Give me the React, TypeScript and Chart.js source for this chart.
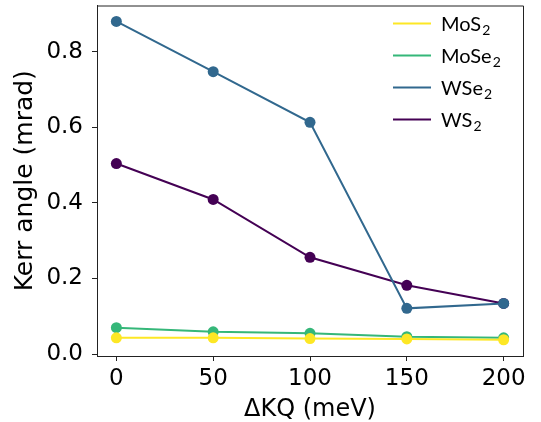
import React, { useEffect, useRef } from "react";
import { Chart, registerables } from "chart.js";

Chart.register(...registerables);

const xValues = [0, 50, 100, 150, 200];
const seriesLabels = ["MoS2", "MoSe2", "WSe2", "WS2"];
const mos2 = [0.043, 0.043, 0.041, 0.040, 0.038];
const mose2 = [0.070, 0.059, 0.055, 0.046, 0.043];
const wse2 = [0.880, 0.747, 0.613, 0.121, 0.134];
const ws2 = [0.504, 0.409, 0.256, 0.182, 0.134];
const seriesColors = ["#fde725", "#35b779", "#31688e", "#440154"];
const xTicks = [0, 50, 100, 150, 200];
const yTicks = [0.0, 0.2, 0.4, 0.6, 0.8];

const seriesValues = [mos2, mose2, wse2, ws2];

const framePlugin = {
  id: "frame",
  afterDatasetsDraw(chart: any) {
    const { ctx, chartArea } = chart;
    ctx.save();
    ctx.strokeStyle = "#222";
    ctx.lineWidth = 1;
    ctx.beginPath();
    ctx.moveTo(chartArea.left, chartArea.top + 0.5);
    ctx.lineTo(chartArea.right + 0.5, chartArea.top + 0.5);
    ctx.lineTo(chartArea.right + 0.5, chartArea.bottom);
    ctx.stroke();
    ctx.restore();
  },
};

const legendPlugin = {
  id: "subLegend",
  afterDraw(chart: any) {
    const { ctx, chartArea } = chart;
    ctx.save();
    const x0 = chartArea.right - 130;
    const y0 = chartArea.top + 18;
    const rowH = 32;
    chart.data.datasets.forEach((ds: any, i: number) => {
      const y = y0 + i * rowH;
      ctx.strokeStyle = ds.borderColor;
      ctx.lineWidth = 2;
      ctx.beginPath();
      ctx.moveTo(x0, y);
      ctx.lineTo(x0 + 38, y);
      ctx.stroke();
      const label: string = ds.label;
      const m = label.match(/^(.*?)(\d+)$/);
      const main = m ? m[1] : label;
      const sub = m ? m[2] : "";
      ctx.fillStyle = "#000";
      ctx.textBaseline = "alphabetic";
      ctx.font = "20px Lato";
      const tx = x0 + 48;
      ctx.fillText(main, tx, y + 7);
      const w = ctx.measureText(main).width;
      if (sub) {
        ctx.font = "14px Lato";
        ctx.fillText(sub, tx + w + 1, y + 11);
      }
    });
    ctx.restore();
  },
};

export default function App() {
  const ref = useRef<HTMLCanvasElement | null>(null);
  useEffect(() => {
    document.body.style.margin = "0";
    const chart = new Chart(ref.current as HTMLCanvasElement, {
      type: "line",
      data: {
        datasets: seriesLabels.map((label, i) => ({
          label,
          data: xValues.map((x, j) => ({ x, y: seriesValues[i][j] })),
          borderColor: seriesColors[i],
          backgroundColor: seriesColors[i],
          pointBackgroundColor: seriesColors[i],
          pointBorderColor: seriesColors[i],
          pointRadius: 5.5,
          pointBorderWidth: 0,
          borderWidth: 2,
          tension: 0,
          clip: false as any,
        })),
      },
      options: {
        animation: false,
        responsive: false,
        maintainAspectRatio: false,
        layout: { padding: { left: 0, top: 5, right: 18, bottom: 0 } },
        plugins: {
          legend: { display: false },
          tooltip: { enabled: false },
        },
        scales: {
          x: {
            type: "linear",
            min: -10,
            max: 210,
            afterFit(scale: any) {
              scale.height = 66;
              scale.paddingLeft = 0;
              scale.paddingRight = 0;
            },
            afterBuildTicks(scale: any) {
              scale.ticks = xTicks.map((v) => ({ value: v }));
            },
            grid: {
              drawOnChartArea: false,
              drawTicks: true,
              tickLength: 5,
              color: "#222",
              lineWidth: 1,
            },
            border: { color: "#222", width: 1 },
            ticks: {
              color: "#000",
              font: { family: "DejaVu Sans", size: 23 },
              padding: 4,
              maxRotation: 0,
              callback: (v: any) => String(v),
            },
            title: {
              display: true,
              text: "ΔKQ (meV)",
              color: "#000",
              font: { family: "DejaVu Sans", size: 24, lineHeight: 1 },
              padding: { top: 0, bottom: 0 },
            },
          },
          y: {
            type: "linear",
            min: -0.005,
            max: 0.922,
            afterFit(scale: any) {
              scale.width = 97;
              scale.paddingTop = 0;
              scale.paddingBottom = 0;
            },
            afterBuildTicks(scale: any) {
              scale.ticks = yTicks.map((v) => ({ value: v }));
            },
            grid: {
              drawOnChartArea: false,
              drawTicks: true,
              tickLength: 5,
              color: "#222",
              lineWidth: 1,
            },
            border: { color: "#222", width: 1 },
            ticks: {
              color: "#000",
              font: { family: "DejaVu Sans", size: 23 },
              padding: 9,
              callback: (v: any) => Number(v).toFixed(1),
            },
            title: {
              display: true,
              text: "Kerr angle (mrad)",
              color: "#000",
              font: { family: "DejaVu Sans", size: 25, lineHeight: 1.2 },
              padding: { top: 10, bottom: 0 },
            },
          },
        },
      },
      plugins: [framePlugin, legendPlugin],
    });
    return () => chart.destroy();
  }, []);
  return (
    <div style={{ position: "relative", width: 541, height: 422 }}>
      <canvas ref={ref} width={541} height={422} style={{ width: 541, height: 422 }} />
    </div>
  );
}
